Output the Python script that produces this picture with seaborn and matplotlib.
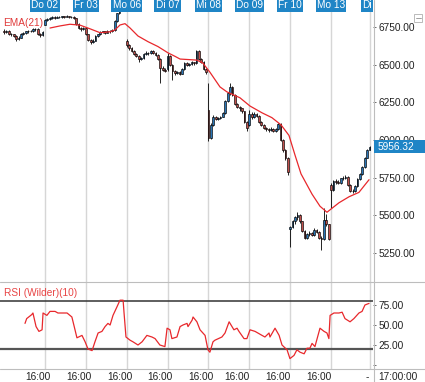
import numpy as np
import pandas as pd
import seaborn as sns
import matplotlib.pyplot as plt
from matplotlib.patches import Rectangle
from matplotlib.lines import Line2D
from matplotlib.transforms import blended_transform_factory

sns.set_style("white")
plt.rcParams['font.family'] = ['Liberation Sans', 'DejaVu Sans']

# 30 minute candles, one row per bar (x axis = bar number)
opens = [6725, 6715, 6725, 6705, 6700, 6690, 6668, 6680, 6705, 6712, 6720, 6725, 6722, 6735, 6738, 6705, 6695,
         6765, 6795, 6805, 6810, 6815, 6812, 6818, 6815, 6820, 6818, 6822, 6815, 6818, 6810, 6770, 6745, 6735,
         6745, 6700, 6665, 6650, 6660, 6690, 6700, 6715, 6720, 6712, 6725, 6720, 6730, 6790, 6840, 6880, 6920,
         6660, 6630, 6610, 6590, 6570, 6560, 6535, 6545, 6570, 6580, 6575, 6590, 6575, 6565, 6540, 6480, 6465,
         6470, 6560, 6500, 6455, 6445, 6450, 6440, 6470, 6510, 6500, 6505, 6515, 6510, 6590, 6540, 6520, 6470,
         6200, 6015, 6100, 6150, 6140, 6145, 6155, 6180, 6260, 6310, 6350, 6300, 6240, 6220, 6210, 6190, 6120,
         6100, 6170, 6150, 6175, 6160, 6120, 6100, 6080, 6070, 6065, 6075, 6060, 6070, 6105, 6000, 5930, 5880,
         5410, 5425, 5460, 5490, 5505, 5460, 5395, 5350, 5375, 5385, 5370, 5405, 5390, 5350, 5340, 5470, 5440,
         5700, 5668, 5725, 5720, 5715, 5745, 5750, 5755, 5700, 5662, 5658, 5692, 5740, 5772, 5822, 5882,
         5935]
highs = [6735, 6732, 6728, 6712, 6705, 6694, 6688, 6712, 6718, 6726, 6730, 6732, 6740, 6744, 6740, 6710, 6722,
         6800, 6812, 6816, 6822, 6820, 6824, 6822, 6826, 6826, 6828, 6825, 6822, 6820, 6812, 6775, 6750, 6748,
         6752, 6705, 6670, 6668, 6695, 6706, 6720, 6726, 6724, 6730, 6728, 6736, 6795, 6845, 6885, 6935, 6960,
         6668, 6640, 6618, 6598, 6578, 6565, 6550, 6575, 6588, 6586, 6598, 6594, 6582, 6570, 6545, 6490, 6475,
         6580, 6565, 6505, 6462, 6458, 6455, 6475, 6518, 6515, 6512, 6522, 6520, 6600, 6596, 6545, 6525, 6475,
         6380, 6110, 6165, 6158, 6152, 6162, 6185, 6265, 6315, 6380, 6355, 6305, 6248, 6228, 6215, 6195, 6125,
         6200, 6185, 6185, 6180, 6165, 6128, 6106, 6088, 6078, 6085, 6080, 6078, 6110, 6110, 6005, 5938, 5885,
         5432, 5470, 5495, 5525, 5510, 5465, 5400, 5385, 5395, 5390, 5415, 5412, 5395, 5365, 5550, 5510, 5445,
         5715, 5735, 5738, 5735, 5750, 5760, 5765, 5760, 5705, 5672, 5700, 5745, 5780, 5830, 5890, 5940,
         5962]
lows = [6705, 6710, 6698, 6692, 6682, 6660, 6662, 6676, 6698, 6706, 6712, 6715, 6718, 6726, 6698, 6686, 6690,
        6760, 6788, 6798, 6804, 6805, 6808, 6808, 6810, 6812, 6814, 6810, 6808, 6800, 6762, 6738, 6725, 6728,
        6695, 6658, 6640, 6645, 6655, 6684, 6694, 6708, 6705, 6708, 6712, 6715, 6726, 6785, 6835, 6875, 6915,
        6615, 6600, 6582, 6562, 6550, 6518, 6528, 6540, 6562, 6565, 6570, 6568, 6558, 6530, 6380, 6455, 6450,
        6460, 6490, 6400, 6432, 6435, 6428, 6436, 6465, 6492, 6494, 6500, 6500, 6505, 6530, 6510, 6462, 6440,
        5995, 6005, 6095, 6132, 6134, 6138, 6150, 6175, 6255, 6300, 6290, 6230, 6210, 6195, 6180, 6110, 6060,
        6090, 6140, 6145, 6150, 6110, 6092, 6072, 6060, 6052, 6060, 6050, 6055, 6065, 5990, 5920, 5870, 5770,
        5290, 5418, 5440, 5470, 5450, 5390, 5340, 5342, 5360, 5360, 5365, 5380, 5340, 5270, 5335, 5430, 5335,
        5550, 5660, 5710, 5705, 5710, 5735, 5742, 5695, 5655, 5648, 5652, 5688, 5735, 5765, 5815, 5878,
        5930]
closes = [6715, 6725, 6705, 6700, 6690, 6668, 6680, 6705, 6712, 6720, 6725, 6722, 6735, 6738, 6705, 6695, 6715,
          6795, 6805, 6810, 6815, 6812, 6818, 6815, 6820, 6818, 6822, 6815, 6818, 6810, 6770, 6745, 6735, 6740,
          6700, 6665, 6650, 6660, 6690, 6700, 6715, 6720, 6712, 6725, 6720, 6730, 6790, 6840, 6880, 6920, 6945,
          6630, 6610, 6590, 6570, 6560, 6535, 6545, 6570, 6580, 6575, 6590, 6575, 6565, 6540, 6480, 6465, 6460,
          6560, 6500, 6455, 6445, 6450, 6440, 6470, 6510, 6500, 6505, 6515, 6510, 6590, 6540, 6520, 6470, 6450,
          6015, 6100, 6150, 6140, 6145, 6155, 6180, 6260, 6310, 6350, 6300, 6240, 6220, 6210, 6190, 6120, 6080,
          6170, 6150, 6175, 6160, 6120, 6100, 6080, 6070, 6065, 6075, 6060, 6070, 6105, 6000, 5930, 5880, 5790,
          5425, 5460, 5490, 5505, 5460, 5395, 5350, 5375, 5385, 5370, 5405, 5390, 5350, 5340, 5470, 5440, 5345,
          5668, 5725, 5720, 5715, 5745, 5750, 5755, 5700, 5662, 5658, 5692, 5740, 5772, 5822, 5882, 5935,
          5956.32]

# EMA(21)
ema_bar = [19.1, 23.3, 27.4, 31.6, 35.7, 39.9, 44.1, 46.1, 48.2, 50.3, 52.4, 55.7, 59.9, 64.0, 68.2, 71.1, 73.2,
           77.3, 80.2, 82.7, 85.6, 89.8, 92.7, 98.1, 102.3, 107.3, 111.4, 115.2, 118.5, 121.0, 123.5, 128.1, 131.4,
           134.3, 139.3, 143.5, 147.6, 151.8]
ema_val = [6743, 6757, 6768, 6762, 6738, 6712, 6718, 6730, 6763, 6772, 6743, 6690, 6652, 6620, 6578, 6555, 6537,
           6533, 6530, 6510, 6450, 6352, 6319, 6280, 6225, 6180, 6148, 6100, 6030, 5900, 5775, 5640, 5560,
           5520, 5583, 5623, 5652, 5736]

# RSI (Wilder)(10)
rsi_bar = [8.7, 9.4, 11.5, 12.0, 13.3, 14.5, 15.8, 16.2, 17.8, 19.1, 21.2, 22.4, 26.2, 28.2, 29.5, 30.3, 32.4, 33.7,
           34.9, 36.6, 37.8, 39.1, 40.7, 42.0, 43.2, 44.1, 45.3, 47.0, 48.2, 49.5, 49.9, 50.7, 52.4, 53.6, 55.7, 57.4,
           59.4, 61.5, 62.8, 64.8, 66.9, 67.8, 69.0, 69.8, 71.9, 73.2, 74.4, 76.1, 76.5, 78.2, 78.6, 80.2, 81.5, 83.6,
           84.8, 85.6, 86.9, 87.7, 90.6, 91.9, 93.6, 95.6, 96.9, 97.7, 99.8, 101.0, 102.3, 104.4, 107.3, 108.5,
           110.2, 110.6, 112.7, 114.4, 115.6, 117.7, 118.9, 120.6, 121.8, 123.1, 124.8, 126.0, 127.2, 128.1, 129.3,
           131.4, 133.1, 134.3, 135.1, 135.6, 137.2, 139.3, 140.6, 141.8, 143.9, 145.5, 147.6, 148.9, 150.1, 151.8]
rsi_val = [52, 58, 63, 65, 48, 42, 44, 65, 62, 67, 67, 65, 65, 60, 44, 34, 37, 29, 20, 18, 29, 40, 42, 48, 52, 50,
           62, 73, 81, 81, 65, 35, 31, 29, 25, 29, 37, 35, 33, 25, 23, 46, 44, 33, 35, 48, 50, 52, 48, 56, 60, 54,
           44, 37, 19, 16, 29, 31, 35, 40, 54, 44, 46, 42, 33, 33, 44, 42, 37, 35, 40, 35, 46, 37, 25, 19, 8, 12,
           19, 16, 14, 21, 21, 27, 23, 46, 42, 40, 33, 62, 65, 65, 66, 58, 54, 58, 65, 67, 75, 77]

day_start = [17, 34, 51, 68, 85, 102, 119, 136, 152]
day_labels = ["Do 02", "Fr 03", "Mo 06", "Di 07", "Mi 08", "Do 09", "Fr 10", "Mo 13", "Di"]
time_ticks = [14, 31, 48, 65, 82, 97, 114, 131, 151]
time_labels = ["16:00"] * 8 + ["-"]
price_ticks = [5250, 5500, 5750, 6000, 6250, 6500, 6750]
rsi_ticks = [0, 25, 50, 75]
rsi_bands = [20, 80]
last_price = 5956.32
last_time = "17:00:00"

up_color = "#2a74b4"
down_color = "#c0504d"
tag_blue = "#1f85c6"
line_red = "#e8282c"
grid_gray = "#d6d6d6"
fs = 7.3

df = pd.DataFrame({"open": opens, "high": highs, "low": lows, "close": closes})
df["bar"] = np.arange(len(df))
df["color"] = np.where(df.close >= df.open, up_color, down_color)

fig = plt.figure(figsize=(4.25, 3.82), dpi=100)
W, H = 425, 382
ax = fig.add_axes([0, 1 - 282 / H, 373 / W, 282 / H])
ax_rsi = fig.add_axes([0, 1 - 369 / H, 373 / W, 87 / H])

# price panel
for d in day_start:
    ax.axvline(d, color=grid_gray, lw=1.0, zorder=0)
ax.vlines(df.bar, df.low, df.high, color="black", lw=0.6, zorder=2)
ax.bar(df.bar, df.close - df.open, bottom=df.open, width=0.72, color=df.color,
       edgecolor="black", linewidth=0.45, zorder=3)
sns.lineplot(x=ema_bar, y=ema_val, ax=ax, color=line_red, lw=0.9, estimator=None, zorder=4)

ax.set_xlim(-1.7, 153.45)
ax.set_ylim(5057, 6929)
ax.set_xticks([])
ax.yaxis.tick_right()
ax.set_yticks(price_ticks)
ax.set_yticklabels([f"{v:.2f}" for v in price_ticks])
ax.tick_params(axis="y", right=True, length=2.5, width=0.6, color="#555555", pad=1.5,
               labelsize=fs, labelcolor="#222222")
for s in ax.spines.values():
    s.set_visible(False)

ax.text(3 / 373, 1 - 22.5 / 282, "EMA(21)", transform=ax.transAxes, color="#e03a3a",
        fontsize=fs, va="center", ha="left")

label_tr = blended_transform_factory(ax.transData, ax.transAxes)
for d, lab in zip(day_start, day_labels):
    ha = "right" if lab == "Di" else "center"
    xpos = 152.8 if lab == "Di" else d
    ax.text(xpos, 1 - 8.3 / 282, lab, transform=label_tr, ha=ha, va="baseline", color="white",
            fontsize=fs, bbox=dict(boxstyle="square,pad=0.12", fc=tag_blue, ec="none"), zorder=6)

# RSI panel
for d in day_start:
    ax_rsi.axvline(d, color=grid_gray, lw=1.0, zorder=0)
ax_rsi.axhline(rsi_bands[1], color="#333333", lw=1.1, zorder=1)
ax_rsi.axhline(rsi_bands[0], color="#555555", lw=1.6, zorder=1)
sns.lineplot(x=rsi_bar, y=rsi_val, ax=ax_rsi, color=line_red, lw=0.9, estimator=None, zorder=3)
ax_rsi.set_xlim(-1.7, 153.45)
ax_rsi.set_ylim(-5, 103.75)
ax_rsi.yaxis.tick_right()
ax_rsi.set_yticks(rsi_ticks)
ax_rsi.set_yticklabels([""] + [f"{v:.2f}" for v in rsi_ticks[1:]])
ax_rsi.tick_params(axis="y", right=True, length=2.5, width=0.6, color="#555555", pad=1.5,
                   labelsize=fs, labelcolor="#222222")
ax_rsi.set_xticks(time_ticks)
ax_rsi.set_xticklabels(time_labels)
ax_rsi.tick_params(axis="x", length=0, pad=2.2, labelsize=fs, labelcolor="#222222")
ax_rsi.set_xlabel("")
ax_rsi.set_ylabel("")
ax.set_ylabel("")
for s in ax_rsi.spines.values():
    s.set_visible(False)
ax_rsi.text(4 / 373, 1 - 10.5 / 87, "RSI (Wilder)(10)", transform=ax_rsi.transAxes,
            color="#e84545", fontsize=fs, va="center", ha="left")

# frame lines
for yy in (282, 369):
    fig.add_artist(Line2D([0, 1], [1 - yy / H] * 2, transform=fig.transFigure, color="#bdbdbd", lw=0.8))
fig.add_artist(Line2D([373.5 / W] * 2, [0, 1], transform=fig.transFigure, color="#bdbdbd", lw=0.8))

# last price tag
tag_tr = blended_transform_factory(fig.transFigure, ax.transData)
fig.add_artist(Rectangle((374 / W, last_price - 42), 51 / W, 84, transform=tag_tr,
                         fc=tag_blue, ec="none", zorder=5))
fig.text(378 / W, last_price, f"{last_price:.2f}", transform=tag_tr, color="white",
         fontsize=fs, va="center", ha="left", zorder=6)

fig.text(378 / W, 1 - 377 / H, last_time, color="#222222", fontsize=fs, va="center", ha="left")

# small collapse box in the corner
fig.add_artist(Rectangle((414 / W, 1 - 22 / H), 8 / W, 8 / H, transform=fig.transFigure,
                         fc="white", ec="#b0b0b0", lw=0.6, zorder=5))
fig.add_artist(Line2D([415.5 / W, 420.5 / W], [1 - 18 / H] * 2, transform=fig.transFigure,
                      color="#909090", lw=0.6, zorder=6))

fig.savefig("out.png", dpi=100)
